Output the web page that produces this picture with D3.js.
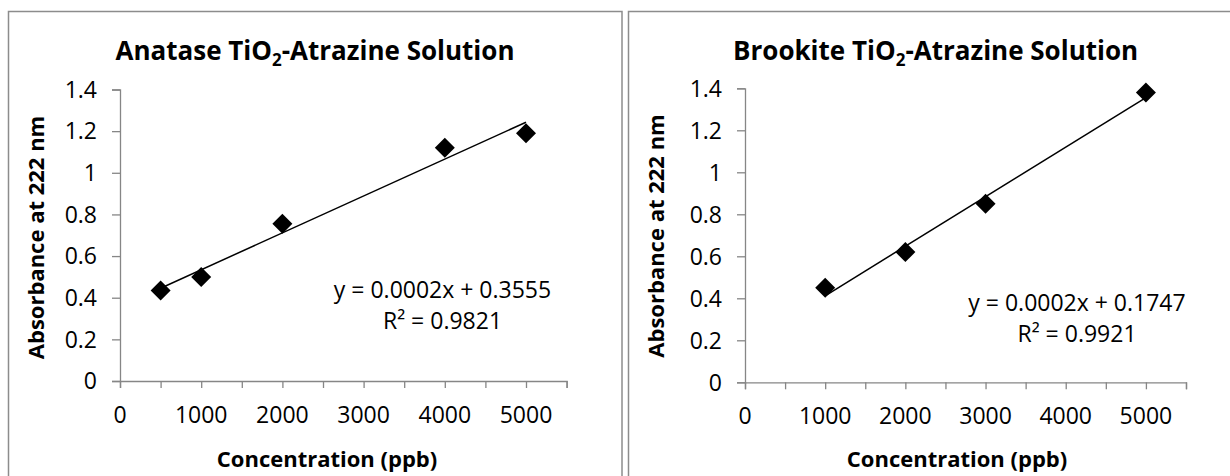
<!DOCTYPE html>
<html>
<head>
<meta charset="utf-8">
<script src="https://cdn.jsdelivr.net/npm/d3@7"></script>
<style>
  body { margin: 0; background: #fff; }
  svg { display: block; font-family: "Open Sans", sans-serif; }
  .tick-label { font-size: 23px; fill: #000; }
  .eq { font-size: 23px; fill: #000; }
  .title { font-size: 26px; font-weight: bold; }
  .axis-title { font-size: 22px; font-weight: bold; }
</style>
</head>
<body>
<svg id="chart" width="1230" height="476"></svg>
<script>
// data
var anataseConc = [500, 1000, 2000, 4000, 5000];
var anataseAbs = [0.435, 0.50, 0.755, 1.12, 1.19];
var brookiteConc = [1000, 2000, 3000, 5000];
var brookiteAbs = [0.45, 0.62, 0.85, 1.38];

var xTickValues = [0, 500, 1000, 1500, 2000, 2500, 3000, 3500, 4000, 4500, 5000, 5500];
var xTickLabels = [0, 1000, 2000, 3000, 4000, 5000];
var yTickValues = [0, 0.2, 0.4, 0.6, 0.8, 1, 1.2, 1.4];

var anataseEq = ["y = 0.0002x + 0.3555", "R\u00b2 = 0.9821"];
var brookiteEq = ["y = 0.0002x + 0.1747", "R\u00b2 = 0.9921"];

var svg = d3.select("#chart");
var axisColor = "#868686";

//panel frames
svg.append("rect").attr("x", 8.5).attr("y", 11.5).attr("width", 613.5).attr("height", 480)
    .attr("fill", "none").attr("stroke", "#8c8c8c").attr("stroke-width", 1.5);
svg.append("rect").attr("x", 628.5).attr("y", 11.5).attr("width", 620).attr("height", 480)
    .attr("fill", "none").attr("stroke", "#8c8c8c").attr("stroke-width", 1.5);

//least squares fit for the trendline
function fit(xs, ys) {
    var mx = d3.mean(xs), my = d3.mean(ys);
    var sxy = d3.sum(xs, (x, i) => (x - mx) * (ys[i] - my));
    var sxx = d3.sum(xs, x => (x - mx) * (x - mx));
    var slope = sxy / sxx;
    return { slope: slope, intercept: my - slope * mx };
}

function drawChart(cfg) {
    var g = svg.append("g");
    var x = d3.scaleLinear().domain([0, 5500]).range([cfg.left, cfg.right]);
    var y = d3.scaleLinear().domain([0, 1.4]).range([cfg.bottom, cfg.top]);

    //x axis
    var xa = g.append("g").attr("transform", "translate(0," + cfg.bottom + ")")
        .call(d3.axisBottom(x).tickValues(xTickValues).tickSize(7).tickFormat(""));
    //y axis
    var ya = g.append("g").attr("transform", "translate(" + cfg.left + ",0)")
        .call(d3.axisLeft(y).tickValues(yTickValues).tickSize(8).tickFormat(""));
    [xa, ya].forEach(a => {
        a.select(".domain").attr("stroke", axisColor).attr("stroke-width", 1.3);
        a.selectAll(".tick line").attr("stroke", axisColor).attr("stroke-width", 1.3);
    });

    g.selectAll(".xl").data(xTickLabels).enter().append("text")
        .attr("class", "tick-label")
        .attr("x", d => x(d)).attr("y", cfg.bottom + 42)
        .attr("text-anchor", "middle")
        .text(d => d);
    g.selectAll(".yl").data(yTickValues).enter().append("text")
        .attr("class", "tick-label")
        .attr("x", cfg.left - 23).attr("y", d => y(d))
        .attr("dy", "0.36em")
        .attr("text-anchor", "end")
        .text(d => d3.format("~g")(d));

    //trendline
    var f = fit(cfg.xs, cfg.ys);
    var x0 = d3.min(cfg.xs), x1 = d3.max(cfg.xs);
    g.append("line")
        .attr("x1", x(x0)).attr("y1", y(f.intercept + f.slope * x0))
        .attr("x2", x(x1)).attr("y2", y(f.intercept + f.slope * x1))
        .attr("stroke", "#000").attr("stroke-width", 1.5);

    //diamond markers
    g.selectAll(".pt").data(cfg.xs).enter().append("path")
        .attr("d", "M0,-10L10,0L0,10L-10,0Z")
        .attr("transform", (d, i) => "translate(" + x(d) + "," + y(cfg.ys[i]) + ")")
        .attr("fill", "#000");

    //title with subscript
    var t = g.append("text").attr("class", "title")
        .attr("x", cfg.titleX).attr("y", 60).attr("text-anchor", "middle");
    t.append("tspan").text(cfg.name + " TiO");
    t.append("tspan").attr("dy", 6).style("font-size", "17px").text("2");
    t.append("tspan").attr("dy", -6).text("-Atrazine Solution");

    g.append("text").attr("class", "axis-title")
        .attr("transform", "translate(" + (cfg.yTitleX) + "," + cfg.yTitleY + ") rotate(-90)")
        .attr("text-anchor", "middle").attr("dy", "0.35em")
        .text("Absorbance at 222 nm");
    g.append("text").attr("class", "axis-title")
        .attr("x", cfg.xTitleX).attr("y", 467)
        .attr("text-anchor", "middle")
        .text("Concentration (ppb)");

    g.selectAll(".eq").data(cfg.eq).enter().append("text")
        .attr("class", "eq")
        .attr("x", cfg.eqX).attr("y", (d, i) => cfg.eqY + i * 31)
        .attr("text-anchor", "middle")
        .text(d => d);
}

drawChart({
    name: "Anatase", xs: anataseConc, ys: anataseAbs, eq: anataseEq,
    left: 120, right: 566.6, top: 89.5, bottom: 381,
    titleX: 315, yTitleX: 36.7, yTitleY: 237.5, xTitleX: 327,
    eqX: 442.5, eqY: 298
});
drawChart({
    name: "Brookite", xs: brookiteConc, ys: brookiteAbs, eq: brookiteEq,
    left: 745, right: 1186, top: 88.3, bottom: 382.3,
    titleX: 935.6, yTitleX: 656.7, yTitleY: 236, xTitleX: 957,
    eqX: 1077, eqY: 311
});
</script>
</body>
</html>
